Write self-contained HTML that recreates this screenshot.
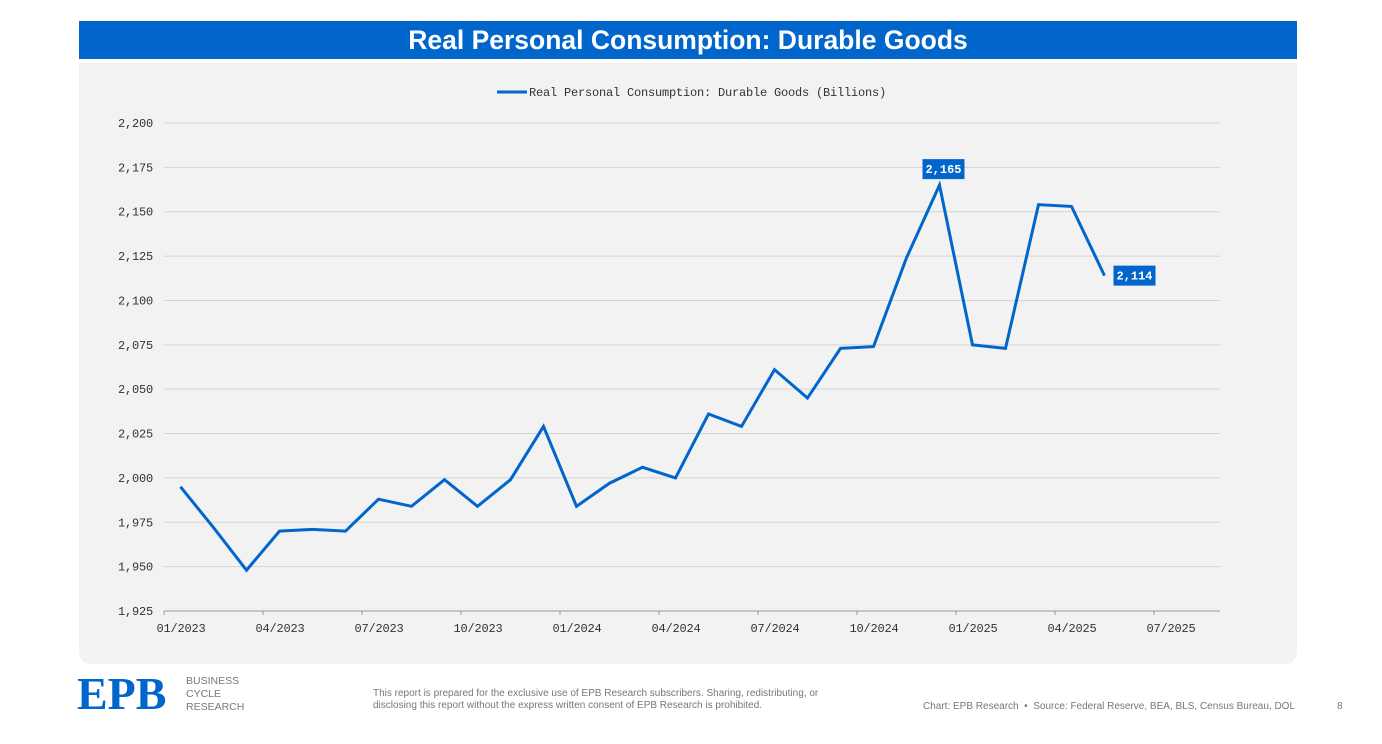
<!DOCTYPE html>
<html><head><meta charset="utf-8"><style>
body{margin:0;width:1382px;height:744px;background:#fff;font-family:"Liberation Sans",sans-serif;position:relative;overflow:hidden}
.title{position:absolute;left:79px;top:21px;width:1218px;height:38px;background:#0066cc;color:#fff;font-weight:bold;font-size:26.5px;text-align:center;line-height:38px}
.panel{position:absolute;left:79px;top:63px;width:1218px;height:601px;background:#f2f2f2;border-radius:0 0 12px 12px}
svg{position:absolute;left:0;top:0}
.mono{font-family:"Liberation Mono","DejaVu Sans Mono",monospace}
.foot{position:absolute;color:#777;font-size:10px;line-height:12px}
</style></head><body>
<div class="title">Real Personal Consumption: Durable Goods</div>
<div class="panel"></div>
<svg id="chart" width="1382" height="744"></svg>
<div style="position:absolute;left:77px;top:675px;font-family:'Liberation Serif',serif;font-weight:bold;font-size:46px;line-height:38px;color:#0066cc;letter-spacing:0px">EPB</div>
<div class="foot" style="left:186px;top:675px;font-size:10.5px;line-height:13px">BUSINESS<br>CYCLE<br>RESEARCH</div>
<div class="foot" style="left:373px;top:688px">This report is prepared for the exclusive use of EPB Research subscribers. Sharing, redistributing, or<br>disclosing this report without the express written consent of EPB Research is prohibited.</div>
<div class="foot" style="left:923px;top:701px">Chart: EPB Research &nbsp;•&nbsp; Source: Federal Reserve, BEA, BLS, Census Bureau, DOL</div>
<div class="foot" style="left:1337px;top:701px">8</div>
<script>
const values=[1995,1972,1948,1970,1971,1970,1988,1984,1999,1984,1999,2029,1984,1997,2006,2000,2036,2029,2061,2045,2073,2074,2124,2165,2075,2073,2154,2153,2114];
const yTicks=[1925,1950,1975,2000,2025,2050,2075,2100,2125,2150,2175,2200];
const xTickLabels=["01/2023","04/2023","07/2023","10/2023","01/2024","04/2024","07/2024","10/2024","01/2025","04/2025","07/2025"];
const annotated=[23,28];
const svg=document.getElementById('chart');const NS='http://www.w3.org/2000/svg';
const x0=164,x1=1220,y0=611,y1=123,ymin=1925,ymax=2200,monthW=33;
const X=i=>x0+monthW*(i+0.5);
const Y=v=>y0-(v-ymin)/(ymax-ymin)*(y0-y1);
function mk(t,a,txt){const e=document.createElementNS(NS,t);for(const k in a)e.setAttribute(k,a[k]);if(txt!=null)e.textContent=txt;svg.appendChild(e);return e;}
yTicks.forEach(v=>{
 if(v>ymin){const g=mk('line',{x1:x0,x2:x1,y1:Y(v),y2:Y(v),stroke:'#d4d4d4','stroke-width':1});
 
 }
 const t=mk('text',{x:153,y:Y(v)+4,'text-anchor':'end','font-size':12,fill:'#333',class:'mono','letter-spacing':-0.2},v.toLocaleString('en-US'));
 
 
});
const ax=mk('line',{x1:x0,x2:x1,y1:y0,y2:y0,stroke:'#999','stroke-width':1});


xTickLabels.forEach((l,i)=>{
 const tx=x0+i*3*monthW;
 const tk=mk('line',{x1:tx,x2:tx,y1:y0,y2:y0+4,stroke:'#999'});
 
 
 const t=mk('text',{x:tx+17,y:632,'text-anchor':'middle','font-size':12,fill:'#333',class:'mono','letter-spacing':-0.2},l);
 
 
});
const p=mk('polyline',{points:values.map((v,i)=>X(i)+','+Y(v)).join(' '),fill:'none',stroke:'#0066cc','stroke-width':3,'stroke-linejoin':'miter'});


annotated.forEach((i,k)=>{
 const v=values[i];const txt=v.toLocaleString('en-US');
 let bx,by;if(k===0){bx=X(i)-17;by=Y(v)-26;}else{bx=X(i)+9;by=Y(v)-10;}
 const r=mk('rect',{x:bx,y:by,width:42,height:20,fill:'#0066cc'});
 
 
 const t=mk('text',{x:bx+21,y:by+14,'text-anchor':'middle','font-size':12,'font-weight':'bold',fill:'#fff',class:'mono'},txt);
 
 
});
const lg=mk('line',{x1:497,x2:527,y1:92,y2:92,stroke:'#0066cc','stroke-width':3});


const lt=mk('text',{x:529,y:96,'font-size':12,fill:'#333',class:'mono','letter-spacing':-0.2},'Real Personal Consumption: Durable Goods (Billions)');


</script>
</body></html>
